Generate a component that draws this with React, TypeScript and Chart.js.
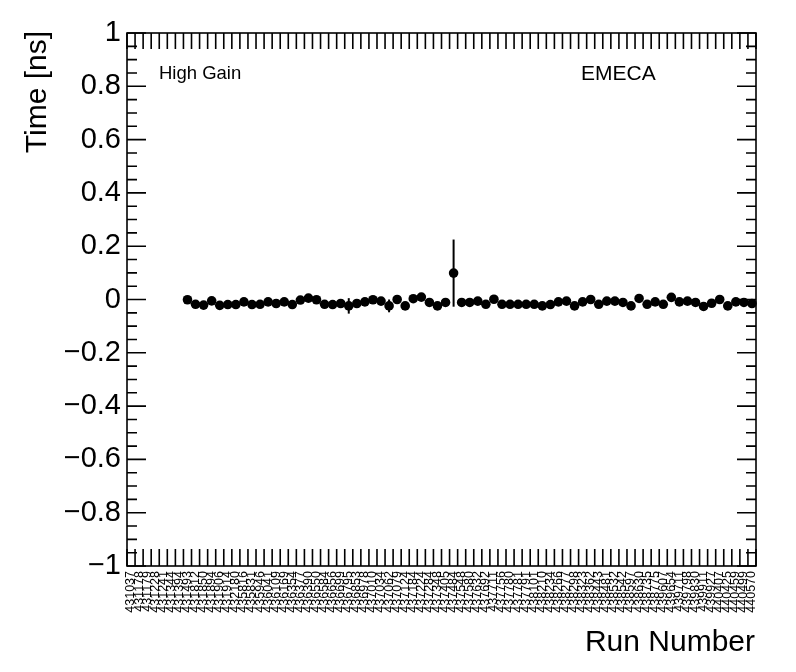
import React, { useEffect, useRef } from "react";
import { Chart, registerables } from "chart.js";

Chart.register(...registerables);

const runLabels: string[] = [
  "431037", "431178", "431179", "431228", "431241", "431344", "431394", "431493",
  "431812", "431850", "431894", "431906", "431914", "432180", "435816", "435831",
  "435946", "436041", "436109", "436169", "436354", "436377", "436390", "436550",
  "436584", "436656", "436699", "436795", "436853", "436978", "437010", "437034",
  "437062", "437079", "437124", "437184", "437224", "437284", "437348", "437405",
  "437484", "437548", "437580", "437632", "437692", "437711", "437756", "437780",
  "437781", "437791", "438101", "438210", "438234", "438266", "438277", "438298",
  "438323", "438362", "438443", "438481", "438532", "438542", "438597", "438630",
  "438735", "438775", "439607", "439654", "439711", "439798", "439830", "439911",
  "439927", "440407", "440425", "440459", "440499", "440570",
];

const timeValues: (number | null)[] = [
  null, null, null, null, null, null, null,
  -0.001, -0.018, -0.021, -0.005, -0.022, -0.019, -0.019, -0.009,
  -0.019, -0.018, -0.009, -0.015, -0.009, -0.019, -0.002, 0.005,
  -0.001, -0.018, -0.019, -0.015, -0.024, -0.015, -0.009, -0.001,
  -0.006, -0.024, 0.0, -0.024, 0.003, 0.009, -0.011, -0.024,
  -0.011, 0.099, -0.011, -0.011, -0.006, -0.018, 0.001, -0.018,
  -0.018, -0.018, -0.018, -0.018, -0.024, -0.019, -0.009, -0.006,
  -0.024, -0.009, 0.0, -0.018, -0.006, -0.006, -0.011, -0.024,
  0.004, -0.018, -0.009, -0.018, 0.008, -0.009, -0.006, -0.011,
  -0.026, -0.014, 0.0, -0.024, -0.009, -0.011, -0.015,
];

const timeErrors: number[] = [
  0, 0, 0, 0, 0, 0, 0,
  0.008, 0.008, 0.008, 0.008, 0.008, 0.008, 0.008, 0.008,
  0.008, 0.008, 0.008, 0.008, 0.008, 0.008, 0.008, 0.008,
  0.008, 0.008, 0.008, 0.008, 0.029, 0.008, 0.008, 0.008,
  0.008, 0.024, 0.008, 0.008, 0.008, 0.008, 0.008, 0.008,
  0.008, 0.126, 0.008, 0.008, 0.008, 0.008, 0.008, 0.008,
  0.008, 0.008, 0.008, 0.008, 0.008, 0.008, 0.008, 0.008,
  0.008, 0.008, 0.008, 0.008, 0.008, 0.008, 0.008, 0.008,
  0.008, 0.008, 0.008, 0.008, 0.013, 0.008, 0.008, 0.008,
  0.008, 0.008, 0.008, 0.008, 0.008, 0.008, 0.008,
];

const yMin = -1;
const yMax = 1;
const yStep = 0.2;
const yMinorStep = 0.05;

const FONT = "'Liberation Sans', Arial, Helvetica, sans-serif";

const rootPlugin = {
  id: "rootStyle",
  beforeDatasetsDraw(chart: any) {
    const ctx = chart.ctx;
    const xs = chart.scales.x;
    const ys = chart.scales.y;
    ctx.save();
    ctx.strokeStyle = "#000";
    ctx.lineWidth = 2;
    timeValues.forEach((v, i) => {
      if (v === null) return;
      const e = timeErrors[i];
      const x = xs.getPixelForValue(i);
      ctx.beginPath();
      ctx.moveTo(x, ys.getPixelForValue(v - e));
      ctx.lineTo(x, ys.getPixelForValue(v + e));
      ctx.stroke();
    });
    ctx.restore();
  },
  afterDraw(chart: any) {
    const ctx = chart.ctx;
    const { left, right, top, bottom } = chart.chartArea;
    const xs = chart.scales.x;
    const ys = chart.scales.y;
    ctx.save();
    ctx.strokeStyle = "#000";
    ctx.lineWidth = 1.6;
    ctx.strokeRect(left, top, right - left, bottom - top);
    const half = (xs.getPixelForValue(1) - xs.getPixelForValue(0)) / 2;
    for (let i = 0; i <= runLabels.length; i++) {
      const x = xs.getPixelForValue(i) - half;
      ctx.beginPath();
      ctx.moveTo(x, bottom);
      ctx.lineTo(x, bottom - 17);
      ctx.moveTo(x, top);
      ctx.lineTo(x, top + 16);
      ctx.stroke();
    }
    const nMinor = Math.round((yMax - yMin) / yMinorStep);
    const ratio = Math.round(yStep / yMinorStep);
    for (let k = 0; k <= nMinor; k++) {
      const v = yMin + k * yMinorStep;
      const y = ys.getPixelForValue(v);
      const len = k % ratio === 0 ? 19 : 10;
      ctx.beginPath();
      ctx.moveTo(left, y);
      ctx.lineTo(left + len, y);
      ctx.moveTo(right, y);
      ctx.lineTo(right - len, y);
      ctx.stroke();
    }
    ctx.fillStyle = "#000";
    ctx.font = `30px ${FONT}`;
    ctx.textAlign = "right";
    ctx.textBaseline = "alphabetic";
    ctx.fillText("Run Number", 755, 651);
    ctx.save();
    ctx.translate(46, 31);
    ctx.rotate(-Math.PI / 2);
    ctx.textAlign = "right";
    ctx.fillText("Time [ns]", 0, 0);
    ctx.restore();
    ctx.textAlign = "left";
    ctx.font = `18.5px ${FONT}`;
    ctx.fillText("High Gain", 159, 79);
    ctx.font = `21px ${FONT}`;
    ctx.fillText("EMECA", 581, 80);
    ctx.restore();
  },
};

export default function App() {
  const ref = useRef<HTMLCanvasElement | null>(null);
  useEffect(() => {
    if (!ref.current) return;
    const chart = new Chart(ref.current, {
      type: "line",
      data: {
        labels: runLabels,
        datasets: [
          {
            data: timeValues,
            showLine: false,
            pointRadius: 4.8,
            pointHoverRadius: 4.8,
            pointBackgroundColor: "#000",
            pointBorderColor: "#000",
            pointBorderWidth: 0,
          },
        ],
      },
      options: {
        animation: false,
        responsive: true,
        maintainAspectRatio: false,
        layout: { padding: { top: 33, right: 40, left: 0, bottom: 0 } },
        plugins: {
          legend: { display: false },
          tooltip: { enabled: false },
          title: { display: false },
        },
        scales: {
          x: {
            type: "category",
            offset: true,
            grid: { display: false, drawTicks: false },
            border: { display: false },
            ticks: {
              autoSkip: false,
              maxRotation: 90,
              minRotation: 90,
              padding: 5,
              color: "#000",
              font: { family: FONT, size: 12.5 },
            },
            afterFit(scale: any) {
              scale.height = 106;
            },
          },
          y: {
            min: yMin,
            max: yMax,
            grid: { display: false, drawTicks: false },
            border: { display: false },
            ticks: {
              stepSize: yStep,
              padding: 6,
              color: "#000",
              font: { family: FONT, size: 29 },
              callback: (value: any) => {
                const r = Math.round(Number(value) * 10) / 10;
                if (r === 0) return "0";
                return String(r).replace("-", "\u2212");
              },
            },
            afterFit(scale: any) {
              scale.width = 127;
            },
          },
        },
      },
      plugins: [rootPlugin],
    });
    return () => chart.destroy();
  }, []);
  return (
    <div style={{ position: "absolute", left: 0, top: 0, width: 796, height: 672, background: "#fff" }}>
      <canvas ref={ref} />
    </div>
  );
}
